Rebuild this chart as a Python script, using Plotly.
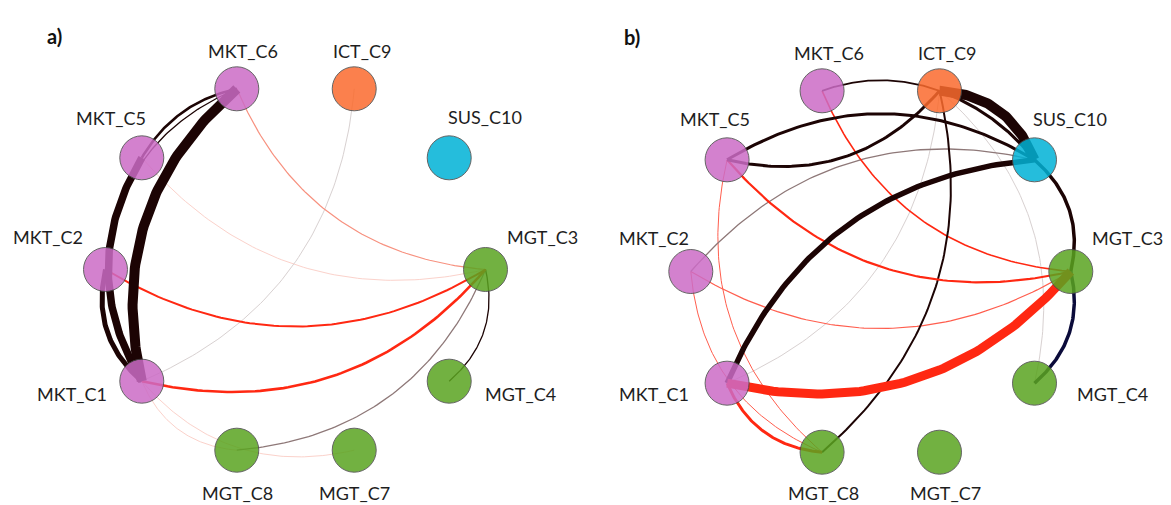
import numpy as np
import plotly.graph_objects as go

# ---------------- data ----------------
nodes = ["MGT_C3", "SUS_C10", "ICT_C9", "MKT_C6", "MKT_C5",
         "MKT_C2", "MKT_C1", "MGT_C8", "MGT_C7", "MGT_C4"]
node_group = ["MGT", "SUS", "ICT", "MKT", "MKT", "MKT", "MKT", "MGT", "MGT", "MGT"]

# panel a) edges
a_source = ["MKT_C6", "MKT_C5", "MKT_C2", "MKT_C6", "MKT_C6", "MKT_C6", "MKT_C5",
            "MKT_C2", "MKT_C1", "MKT_C1", "MKT_C1", "MKT_C1", "MGT_C8", "MGT_C4"]
a_target = ["MKT_C1", "MKT_C1", "MKT_C1", "MKT_C2", "MKT_C5", "MGT_C3", "MGT_C3",
            "MGT_C3", "MGT_C3", "ICT_C9", "MGT_C8", "MGT_C7", "MGT_C3", "MGT_C3"]
a_weight = [10, 7.5, 5, 1.3, 2.6, 1.2, 1.0, 2.0, 2.6, 1.0, 1.0, 1.0, 1.3, 1.3]
a_kind = ["dark", "dark", "dark", "dark", "dark", "salmon", "pink",
          "red", "red", "gray", "pink", "pink", "taupe", "dark"]

# panel b) edges
b_source = ["ICT_C9", "SUS_C10", "SUS_C10", "SUS_C10", "MKT_C5", "SUS_C10", "SUS_C10",
            "MGT_C8", "MKT_C1", "MKT_C6", "MKT_C5", "MKT_C2", "MKT_C1", "MGT_C3",
            "MGT_C4", "MGT_C4", "MKT_C1", "MKT_C2", "MKT_C5"]
b_target = ["MKT_C6", "ICT_C9", "ICT_C9", "MKT_C5", "ICT_C9", "MKT_C2", "MKT_C1",
            "ICT_C9", "ICT_C9", "MGT_C3", "MGT_C3", "MGT_C3", "MGT_C3", "SUS_C10",
            "MGT_C3", "ICT_C9", "MGT_C8", "MGT_C8", "MGT_C8"]
b_weight = [1.8, 10, 3, 3, 3, 1.3, 5.5, 2, 1, 1.6, 2.2, 1.2, 9, 3.5, 3.5, 1, 3, 1, 1]
b_kind = ["dark", "dark", "dark", "dark", "dark", "taupe", "dark", "dark", "gray",
          "red", "red", "lightred", "red", "dark", "navy", "gray", "red",
          "lightred", "lightred"]

# ---------------- styles ----------------
a_bend = [0.3, 0.3, 0.3, 0.3, 0.22, 0.3, 0.3, 0.3, 0.3, 0.3, 0.3, 0.3, 0.3, 0.3]
b_bend = [0.18, 0.32, 0.14] + [0.3] * 16

edge_colors = {"dark": "#1c0404", "red": "#ff2812", "lightred": "#ff5e4e",
               "salmon": "#f7917f", "pink": "#fbd2cb", "gray": "#d8d1d1",
               "taupe": "#8e7878", "navy": "#0b0b3a"}
group_colors = {"MKT": "#cc6cc6", "ICT": "#fb6b2e", "SUS": "#00b2d6", "MGT": "#5aa420"}

label_off_a = {"MKT_C6": (6, -38), "ICT_C9": (8, -38), "SUS_C10": (36, -41),
               "MGT_C3": (57, -33), "MGT_C4": (71, 13), "MGT_C7": (0, 43),
               "MGT_C8": (1, 43), "MKT_C1": (-70, 13), "MKT_C2": (-58, -33),
               "MKT_C5": (-31, -40)}
label_off_b = {"MKT_C6": (7, -38), "ICT_C9": (7, -38), "SUS_C10": (35, -41),
               "MGT_C3": (57, -34), "MGT_C4": (78, 11), "MGT_C7": (6, 41),
               "MGT_C8": (1, 41), "MKT_C1": (-73, 11), "MKT_C2": (-37, -34),
               "MKT_C5": (-12, -41)}

W, H = 1171, 505
R_PX = 190.0
centers_px = {"a": (295.5, 269.5), "b": (880.8, 271.5)}
panel_left = {"a": 0.0, "b": W / 2}

theta = np.deg2rad(np.arange(len(nodes)) * 36.0)
pos = {n: np.array([np.cos(theta[i]), np.sin(theta[i])]) for i, n in enumerate(nodes)}


def axis_ranges(key):
    cx, cy = centers_px[key]
    left = panel_left[key]
    return ([-(cx - left) / R_PX, (left + W / 2 - cx) / R_PX],
            [-(H - cy) / R_PX, cy / R_PX])


def curve(p0, p2, k, n=80):
    d = p2 - p0
    L = np.hypot(*d)
    normal = np.array([d[1], -d[0]]) / L
    c = (p0 + p2) / 2 + k * L * normal
    t = np.linspace(0, 1, n)[:, None]
    pts = (1 - t) ** 2 * p0 + 2 * t * (1 - t) * c + t ** 2 * p2
    return pts[:, 0], pts[:, 1]


fig = go.Figure()


def add_panel(src, tgt, wt, kind, bend, offs, xa, ya):
    order = np.argsort(wt, kind="stable")
    for i in order:
        x, y = curve(pos[src[i]], pos[tgt[i]], bend[i])
        fig.add_trace(go.Scatter(x=x, y=y, mode="lines", xaxis=xa, yaxis=ya,
                                 line=dict(color=edge_colors[kind[i]], width=wt[i]),
                                 hoverinfo="skip", showlegend=False))
    fig.add_trace(go.Scatter(
        x=[pos[n][0] for n in nodes], y=[pos[n][1] for n in nodes],
        mode="markers", xaxis=xa, yaxis=ya, showlegend=False, text=nodes,
        hoverinfo="text",
        marker=dict(size=44, color=[group_colors[g] for g in node_group],
                    opacity=0.85, line=dict(color="#4a4a4a", width=1))))
    for n in nodes:
        dx, dy = offs[n]
        fig.add_annotation(x=pos[n][0] + dx / R_PX, y=pos[n][1] - dy / R_PX,
                           xref=xa, yref=ya, text=n, showarrow=False,
                           font=dict(family="Lato", size=18, color="#1e1e1e"))


add_panel(a_source, a_target, a_weight, a_kind, a_bend, label_off_a, "x", "y")
add_panel(b_source, b_target, b_weight, b_kind, b_bend, label_off_b, "x2", "y2")

xr_a, yr_a = axis_ranges("a")
xr_b, yr_b = axis_ranges("b")
ax_style = dict(visible=False, showgrid=False, zeroline=False, fixedrange=True)
fig.update_layout(
    width=W, height=H, margin=dict(l=0, r=0, t=0, b=0),
    paper_bgcolor="white", plot_bgcolor="white",
    xaxis=dict(domain=[0, 0.5], range=xr_a, anchor="y", **ax_style),
    yaxis=dict(domain=[0, 1], range=yr_a, anchor="x", **ax_style),
    xaxis2=dict(domain=[0.5, 1], range=xr_b, anchor="y2", **ax_style),
    yaxis2=dict(domain=[0, 1], range=yr_b, anchor="x2", **ax_style),
)
for txt, px, py in [("a)", 45, 22), ("b)", 632, 23)]:
    fig.add_annotation(x=px / W, y=1 - py / H, xref="paper", yref="paper",
                       text="<b>" + txt + "</b>", showarrow=False,
                       font=dict(family="Lato", size=20, color="#111"))

fig.write_html("out.html", config={"displayModeBar": False},
               post_script="document.body.style.margin='0';"
                           "document.body.style.overflow='hidden';")
